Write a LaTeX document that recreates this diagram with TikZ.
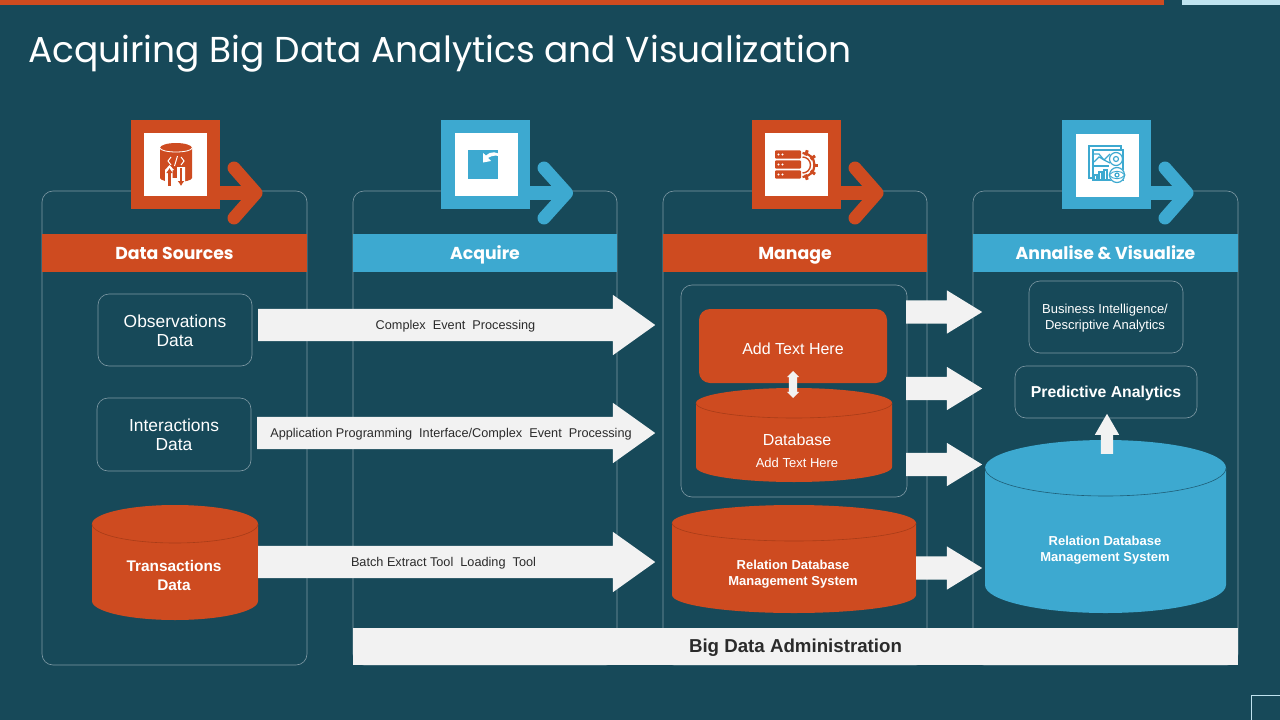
\documentclass[tikz,border=0pt]{standalone}
\usepackage{fontspec}
\setmainfont{Liberation Sans}
\newfontfamily\titlefont{Poppins}
\usetikzlibrary{shapes.arrows,shapes.geometric,calc,arrows.meta}
\definecolor{bgc}{HTML}{174959}
\definecolor{org}{HTML}{CE4B20}
\definecolor{orgd}{HTML}{A83C18}
\definecolor{blu}{HTML}{3DA9D0}
\definecolor{blud}{HTML}{1F5F78}
\definecolor{lblu}{HTML}{BFE3EF}
\definecolor{lin}{HTML}{7F9AA5}
\definecolor{wht}{HTML}{F2F2F2}
\definecolor{txt}{HTML}{2B2B2B}
\newcommand\fs[1]{\fontsize{#1}{#1}\selectfont}
\tikzset{
  x=1pt,y=-1pt,
  colbox/.style={draw=lin,line width=.6pt,rounded corners=11pt},
  softbox/.style={draw=lin,line width=.6pt,rounded corners=11pt,align=center,text=white,inner sep=0pt},
  header/.style={minimum height=38pt,inner sep=0pt,text=white,text height=15pt,text depth=2pt,font=\titlefont\bfseries\fs{17.3}},
  iconsq/.style={minimum size=89pt,inner sep=0pt},
  iconwh/.style={fill=white,minimum size=63pt,inner sep=0pt},
  chev/.style={line width=13pt,line cap=round,line join=round},
  shaft/.style={line width=13.5pt},
  bigarrow/.style={single arrow,fill=wht,inner xsep=0pt,inner ysep=16pt,anchor=tail,
     single arrow head extend=14pt,single arrow tip angle=71},
  smallarrow/.style={single arrow,fill=wht,inner xsep=0pt,inner ysep=11.5pt,anchor=tail,
     single arrow head extend=10pt,single arrow tip angle=63},
  arrowtext/.style={text=txt,font=\fs{12.7},inner sep=0pt,align=center,text height=10pt,text depth=2pt},
  cyltext/.style={text=white,align=center,inner sep=0pt},
}
% name, x1, x2, ytop, ybot, ry, fill, edge
\newcommand\dbshape[8]{%
  \pgfmathsetmacro\rxv{(#3-#2)/2}%
  \fill[#7] (#2,#4+#6) arc[start angle=180,end angle=0,x radius=\rxv pt,y radius=#6 pt]
    -- (#3,#5-#6) arc[start angle=0,end angle=-180,x radius=\rxv pt,y radius=#6 pt] -- cycle;
  \draw[#8,line width=.6pt] (#2,#4+#6) arc[start angle=-180,end angle=0,x radius=\rxv pt,y radius=#6 pt];
  \coordinate (#1) at ({(#2+#3)/2},{(#4+#5)/2});
}
\begin{document}
\begin{tikzpicture}
\useasboundingbox (0,0) rectangle (1280,720);
\fill[bgc] (0,0) rectangle (1280,720);
\fill[org] (0,0) rectangle (1164,5);
\fill[lblu] (1182,0) rectangle (1280,5);
\draw[lblu,line width=1.1pt] (1251.5,720.5) -- (1251.5,695.5) -- (1280.5,695.5);

\node[anchor=west,text=white,font=\titlefont\fs{36},inner sep=0pt] (title) at (28,54) {Acquiring Big Data Analytics and Visualization};

% columns
\draw[colbox] (42,191) rectangle (307,665);
\draw[colbox] (353,191) rectangle (617,665);
\draw[colbox] (663,191) rectangle (927,665);
\draw[colbox] (973,191) rectangle (1238,665);

% headers
\node[header,fill=org,minimum width=265pt] (h1) at (174.5,253) {Data Sources};
\node[header,fill=blu,minimum width=264pt] (h2) at (485,253) {Acquire};
\node[header,fill=org,minimum width=264pt] (h3) at (795,253) {Manage};
\node[header,fill=blu,minimum width=265pt] (h4) at (1105.5,253) {Annalise \& Visualize};

% admin bar
\node[fill=wht,minimum width=885pt,minimum height=37pt,inner sep=0pt,text=txt,text height=15pt,text depth=3pt,font=\bfseries\fs{18.7}] (admin) at (795.5,646.5) {Big Data Administration};

% icon 1
\coordinate (c1) at (256,193);
\node[iconsq,fill=org] (s1) at (175.5,164.5) {};
\draw[org,shaft] (s1.east |- c1) -- (c1);
\draw[org,chev] (234,168) -- (c1) -- (234,218);
\node[iconwh] (w1) at (175.5,164.5) {};
% icon 2
\coordinate (c2) at (566.5,193);
\node[iconsq,fill=blu] (s2) at (485.5,164.5) {};
\draw[blu,shaft] (s2.east |- c2) -- (c2);
\draw[blu,chev] (544,168) -- (c2) -- (544,218);
\node[iconwh] (w2) at (486.5,164.5) {};
% icon 3
\coordinate (c3) at (877,193);
\node[iconsq,fill=org] (s3) at (796.5,164.5) {};
\draw[org,shaft] (s3.east |- c3) -- (c3);
\draw[org,chev] (855,168) -- (c3) -- (855,218);
\node[iconwh] (w3) at (796,164.5) {};
% icon 4
\coordinate (c4) at (1187,193);
\node[iconsq,fill=blu] (s4) at (1106.5,164.5) {};
\draw[blu,shaft] (s4.east |- c4) -- (c4);
\draw[blu,chev] (1165,168) -- (c4) -- (1165,218);
\node[iconwh] (w4) at (1107,165) {};

% glyph 1: data cylinder
\fill[org] (160,148) arc[start angle=180,end angle=0,x radius=16pt,y radius=5pt]
  -- (192,178) arc[start angle=0,end angle=-180,x radius=16pt,y radius=4pt] -- cycle;
\draw[white,line width=.8pt] (160,148) arc[start angle=-180,end angle=0,x radius=16pt,y radius=4pt];
\draw[white,line width=1pt] (171,157) -- (168,161) -- (171,165) (181,157) -- (184,161) -- (181,165) (177.5,156) -- (174.5,166);
\fill[white] (165,170) -- (169.5,165) -- (174,170) -- (172.5,170) -- (172.5,178) -- (177,178) -- (177,167) -- (185,167) -- (185,186) -- (165,186) -- cycle;
\draw[org,line width=2.4pt,-{Latex[length=5pt,width=7pt]}] (169.5,186) -- (169.5,168);
\draw[org,line width=2.4pt,-{Latex[length=5pt,width=7pt]}] (181,168) -- (181,186);
% glyph 2: square with curved arrow
\fill[blu] (468,150) rectangle (498,179);
\fill[white] (483,153) -- (483,162.5) -- (491,161) -- (488,158) .. controls (492,155) and (498,155) .. (503,157) .. controls (498,151) and (490,151) .. (486,155.5) -- cycle;
% glyph 3: server rack + gear
\foreach \yy in {154.5,164.5,174.5} {
  \fill[org,rounded corners=1pt] (775,\yy-4.2) rectangle (801,\yy+4.2);
  \fill[white] (778.5,\yy) circle (1.2pt) (782.5,\yy) circle (1.2pt);
}
\foreach \a in {-72,-36,0,36,72} { \draw[org,line width=3pt] ($(802.5,165)+(\a:10pt)$) -- ($(802.5,165)+(\a:15.5pt)$); }
\draw[org,line width=2.2pt] (802.5,153) arc[start angle=90,end angle=-90,radius=12pt];
\draw[org,line width=1.4pt] (802.5,157) arc[start angle=90,end angle=-90,radius=8pt];
% glyph 4: dashboard
\draw[blu,line width=1.2pt] (1094,178) -- (1089,178) -- (1089,146) -- (1121,146) -- (1121,149);
\fill[blu] (1092,149) rectangle (1124,181);
\fill[white] (1094,151) rectangle (1122,179);
\draw[blu,line width=1.2pt] (1094,154) -- (1099,154) -- (1104,160) -- (1110,154) (1094,162) -- (1099,157) -- (1104,160) -- (1110,163);
\draw[blu,line width=1.2pt] (1093,166) -- (1109,166);
\draw[blu,line width=1.2pt] (1116,159) circle (6.5pt) (1116,159) circle (2.5pt);
\draw[blu,line width=1.2pt] (1094,179.5) -- (1094,175) -- (1097,175) -- (1097,179.5) (1099,179.5) -- (1099,172) -- (1102,172) -- (1102,179.5) (1104,179.5) -- (1104,170) -- (1107,170) -- (1107,179.5);
\fill[white] (1117,175) circle (8pt);
\draw[blu,line width=1.2pt] (1117,175) circle (7.5pt) (1117,175) circle (2pt);
\draw[blu,line width=.9pt] (1109,175) .. controls (1113,170) and (1121,170) .. (1125,175) .. controls (1121,180) and (1113,180) .. (1109,175);

% data sources
\node[softbox,minimum width=154pt,minimum height=72pt] (obs) at (175,330) {};
\node[cyltext,font=\fs{17.4}] (obslabel) at (175,331) {Observations\\[2pt]Data};
\node[softbox,minimum width=154pt,minimum height=73pt,font=\fs{17.4}] (int) at (174,434.5) {Interactions\\[2pt]Data};
\dbshape{trans}{92}{258}{505}{620}{19}{org}{orgd}
\node[cyltext,font=\bfseries\fs{15.4}] (transt) at (174,575.5) {Transactions\\[4pt]Data};

% manage group
\draw[colbox] (681,285) rectangle (907,497);
\node[fill=org,rounded corners=11pt,minimum width=188pt,minimum height=74pt,inner sep=0pt,text=white,text height=12pt,text depth=4pt,font=\fs{16}] (addt) at (793,346) {\raisebox{-4pt}{Add Text Here}};
\dbshape{dbc}{696}{892}{388}{482}{15}{org}{orgd}
\node[cyltext,font=\fs{16}] (dbt1) at (797,440) {Database};
\node[cyltext,font=\fs{13}] (dbt2) at (797,463) {Add Text Here};
\node[double arrow,fill=wht,inner xsep=0pt,inner ysep=4pt,rotate=90,minimum height=27pt,double arrow head extend=2pt,double arrow tip angle=90] (dbl) at (793,384.5) {};
\dbshape{rdb}{672}{916}{505}{613}{18}{org}{orgd}
\node[cyltext,font=\bfseries\fs{13}] (rdbt) at (793,574) {Relation Database\\[3pt]Management System};

% analyse column
\node[softbox,minimum width=154pt,minimum height=72pt] (bi) at (1106,317) {};
\node[cyltext,font=\fs{13}] (bilabel) at (1105,318) {Business Intelligence/\\[3pt]Descriptive Analytics};
\node[softbox,minimum width=182pt,minimum height=52pt,text height=13pt,text depth=3pt,font=\bfseries\fs{15.8}] (pred) at (1106,392) {Predictive Analytics};
\dbshape{bdb}{985}{1226}{440}{613}{28}{blu}{blud}
\node[cyltext,font=\bfseries\fs{13}] (bdbt) at (1105,550) {Relation Database\\[3pt]Management System};
\node[single arrow,fill=wht,inner xsep=0pt,inner ysep=6pt,rotate=90,anchor=tail,minimum height=40pt,single arrow head extend=6pt,single arrow tip angle=60] (up) at (1107,454) {};

% big arrows
\node[bigarrow,minimum height=397pt] (a1) at (258,325) {};
\node[bigarrow,minimum height=398pt] (a2) at (257,433) {};
\node[bigarrow,minimum height=397pt] (a3) at (258,562) {};
\node[arrowtext] (a1t) at (455.5,325) {Complex\ \ Event\ \ Processing};
\node[arrowtext] (a2t) at (451,433) {Application Programming\ \ Interface/Complex\ \ Event\ \ Processing};
\node[arrowtext] (a3t) at (443.5,562) {Batch Extract Tool\ \ Loading\ \ Tool};

% small arrows
\node[smallarrow,minimum height=76pt] (b1) at (906,312) {};
\node[smallarrow,minimum height=76pt] (b2) at (906,388.5) {};
\node[smallarrow,minimum height=76pt] (b3) at (906,464.5) {};
\node[smallarrow,minimum height=66pt] (b4) at (916,568) {};
\end{tikzpicture}
\end{document}
